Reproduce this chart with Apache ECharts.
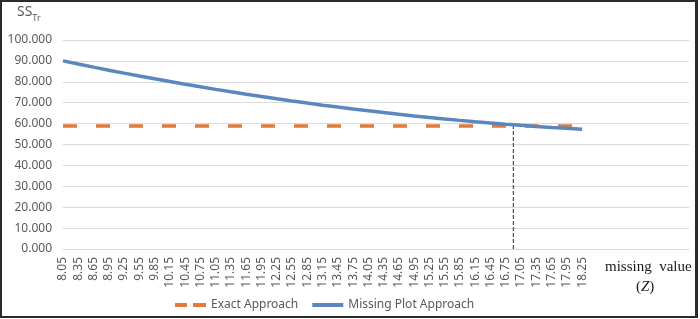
<!DOCTYPE html>
<html>
<head>
<meta charset="utf-8">
<script src="https://cdn.jsdelivr.net/npm/echarts@6/dist/echarts.min.js"></script>
<style>
html,body{margin:0;padding:0;background:#fff;}
#frame{position:absolute;left:0;top:0;width:698px;height:318px;box-sizing:border-box;border:2px solid #2b2b2b;border-right-width:3px;}
#chart{position:absolute;left:0;top:0;width:700px;height:319px;}
</style>
</head>
<body>
<div id="chart"></div>
<div id="frame"></div>
<script>
// Category labels (missing value Z)
const zLabels = ['8.05','8.35','8.65','8.95','9.25','9.55','9.85','10.15','10.45','10.75','11.05','11.35','11.65','11.95','12.25','12.55','12.85','13.15','13.45','13.75','14.05','14.35','14.65','14.95','15.25','15.55','15.85','16.15','16.45','16.75','17.05','17.35','17.65','17.95','18.25'];
// empty slots to the right of the data (axis continues)
const blankSlots = ['','','','','','',''];
// Exact Approach SS_Tr
const exactValues = [58.9,58.9,58.9,58.9,58.9,58.9,58.9,58.9,58.9,58.9,58.9,58.9,58.9,58.9,58.9,58.9,58.9,58.9,58.9,58.9,58.9,58.9,58.9,58.9,58.9,58.9,58.9,58.9,58.9,58.9,58.9,58.9,58.9,58.9,58.9];
// Missing Plot Approach SS_Tr
const missingPlotValues = [90.00,88.49,87.01,85.56,84.15,82.77,81.43,80.12,78.84,77.59,76.38,75.20,74.06,72.95,71.87,70.82,69.81,68.83,67.89,66.98,66.10,65.26,64.44,63.67,62.92,62.21,61.54,60.89,60.28,59.70,59.16,58.65,58.17,57.73,57.32];
// Intersection marker
const optimalZ = 16.9;
const optimalSS = 58.9;
// y ticks
const yMin = 0, yMax = 100, yStep = 10;
const seriesNames = ['Exact Approach', 'Missing Plot Approach'];

const categories = zLabels.concat(blankSlots);
const chart = echarts.init(document.getElementById('chart'), null, {renderer: 'canvas'});
const txt = '#595959';
const font = 'Noto Sans';
chart.setOption({
  animation: false,
  backgroundColor: '#fff',
  grid: {left: 63, right: 11, top: 40, bottom: 70, containLabel: false},
  legend: {
    data: [
      {name: seriesNames[0], icon: 'path://M0,0h12v4h-12z M18,0h13v4h-13z'},
      {name: seriesNames[1], icon: 'path://M0,0h31v4h-31z'}
    ],
    left: 170, bottom: 3,
    itemWidth: 31, itemHeight: 4, itemGap: 14,
    textStyle: {color: txt, fontFamily: font, fontSize: 12}
  },
  xAxis: [{
    type: 'category', data: categories, boundaryGap: false,
    axisLine: {lineStyle: {color: '#d9d9d9', width: 1}},
    axisTick: {show: false},
    axisLabel: {rotate: 90, interval: 0, color: txt, fontFamily: font, fontSize: 12, margin: 8},
    splitLine: {show: false}
  }, {
    type: 'value', min: 8.05, max: 8.05 + (categories.length - 1) * 0.3, show: false
  }],
  yAxis: {
    type: 'value', min: yMin, max: yMax, interval: yStep,
    axisLine: {show: false}, axisTick: {show: false},
    axisLabel: {color: txt, fontFamily: font, fontSize: 12, margin: 11, formatter: v => v.toFixed(3)},
    splitLine: {lineStyle: {color: '#d9d9d9', width: 1}}
  },
  graphic: [
    {type: 'text', left: 17, top: 5, style: {
      text: '{a|SS}{b|Tr}',
      rich: {
        a: {fontFamily: font, fontSize: 14, fill: txt, verticalAlign: 'top'},
        b: {fontFamily: font, fontSize: 9, fill: txt, padding: [9,0,0,0]}
      }, fill: txt}},
    {type: 'text', left: 605, top: 260, style: {text: 'missing  value', fontFamily: 'Liberation Serif', fontSize: 15, fill: '#1a1a1a'}},
    {type: 'text', left: 636, top: 280, style: {
      text: '{p|(}{z|Z}{p|)}',
      rich: {p: {fontFamily: 'Liberation Serif', fontSize: 15, fill: '#1a1a1a'},
             z: {fontFamily: 'Liberation Serif', fontStyle: 'italic', fontSize: 15, fill: '#1a1a1a'}}
    }}
  ],
  series: [
    {
      name: seriesNames[0], type: 'line', data: exactValues, symbol: 'none', z: 2,
      itemStyle: {color: '#E07B39'},
      lineStyle: {color: '#E07B39', width: 3.5, type: [14, 19], cap: 'butt'}
    },
    {
      name: seriesNames[1], type: 'line', data: missingPlotValues, symbol: 'none', z: 3,
      itemStyle: {color: '#5B87BE'},
      lineStyle: {color: '#5B87BE', width: 3.5}
    },
    {
      name: 'marker', type: 'line', xAxisIndex: 1, symbol: 'none', z: 1,
      data: [[optimalZ, yMin], [optimalZ, optimalSS]],
      lineStyle: {color: '#555', width: 1.3, type: [4, 2]}
    }
  ]
});
</script>
</body>
</html>
